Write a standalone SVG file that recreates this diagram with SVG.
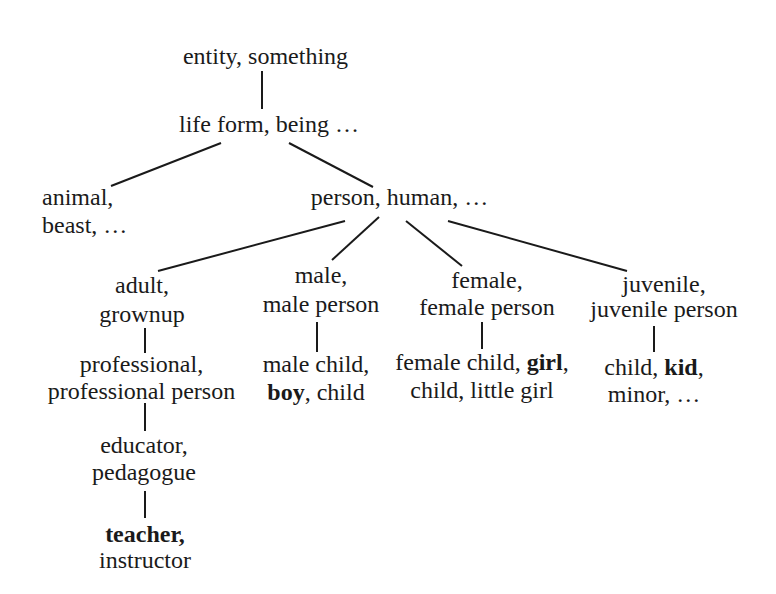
<svg xmlns="http://www.w3.org/2000/svg" width="776" height="594" viewBox="0 0 776 594" font-family="'Liberation Serif', 'Times New Roman', 'DejaVu Serif', serif">
<style>
text{font-family:'Liberation Serif','Times New Roman','DejaVu Serif',serif;font-size:24px;fill:#1a1a1a;text-anchor:middle}
.l{text-anchor:start}
.b{font-weight:bold}
#edges line{stroke:#1a1a1a;stroke-width:2;stroke-linecap:butt}
</style>
<rect width="776" height="594" fill="#fff"/>
<g id="edges">
<line x1="262" y1="71" x2="262" y2="109"/>
<line x1="221" y1="143" x2="111" y2="186"/>
<line x1="289" y1="143" x2="373" y2="187"/>
<line x1="345" y1="221" x2="158" y2="271"/>
<line x1="379" y1="217" x2="332" y2="260"/>
<line x1="406" y1="221" x2="462" y2="266"/>
<line x1="448" y1="221" x2="627" y2="271"/>
<line x1="145" y1="328" x2="145" y2="353"/>
<line x1="317" y1="322" x2="317" y2="352"/>
<line x1="482" y1="322" x2="482" y2="349"/>
<line x1="654" y1="326" x2="654" y2="352"/>
<line x1="145" y1="403" x2="145" y2="431"/>
<line x1="145" y1="491" x2="145" y2="518"/>
</g>
<g id="entity"><text x="265.5" y="64">entity, something</text></g>
<g id="lifeform"><text x="269" y="132">life form, being …</text></g>
<g id="animal"><text class="l" x="42" y="205">animal,</text><text class="l" x="42" y="233">beast, …</text></g>
<g id="person"><text x="399.5" y="205">person, human, …</text></g>
<g id="adult"><text x="142" y="293">adult,</text><text x="142" y="322">grownup</text></g>
<g id="male"><text x="321" y="283">male,</text><text x="321" y="312">male person</text></g>
<g id="female"><text x="487" y="288">female,</text><text x="487" y="315">female person</text></g>
<g id="juvenile"><text x="664" y="292">juvenile,</text><text x="664" y="317">juvenile person</text></g>
<g id="professional"><text x="141.5" y="372">professional,</text><text x="141.5" y="399">professional person</text></g>
<g id="malechild"><text x="316" y="372">male child,</text><text x="316" y="400"><tspan class="b">boy</tspan>, child</text></g>
<g id="femalechild"><text x="482" y="370">female child, <tspan class="b">girl</tspan>,</text><text x="482" y="398">child, little girl</text></g>
<g id="child"><text x="654" y="375">child, <tspan class="b">kid</tspan>,</text><text x="654" y="402">minor, …</text></g>
<g id="educator"><text x="144" y="453">educator,</text><text x="144" y="480">pedagogue</text></g>
<g id="teacher"><text x="145" y="542" class="b">teacher,</text><text x="145" y="568">instructor</text></g>
</svg>
